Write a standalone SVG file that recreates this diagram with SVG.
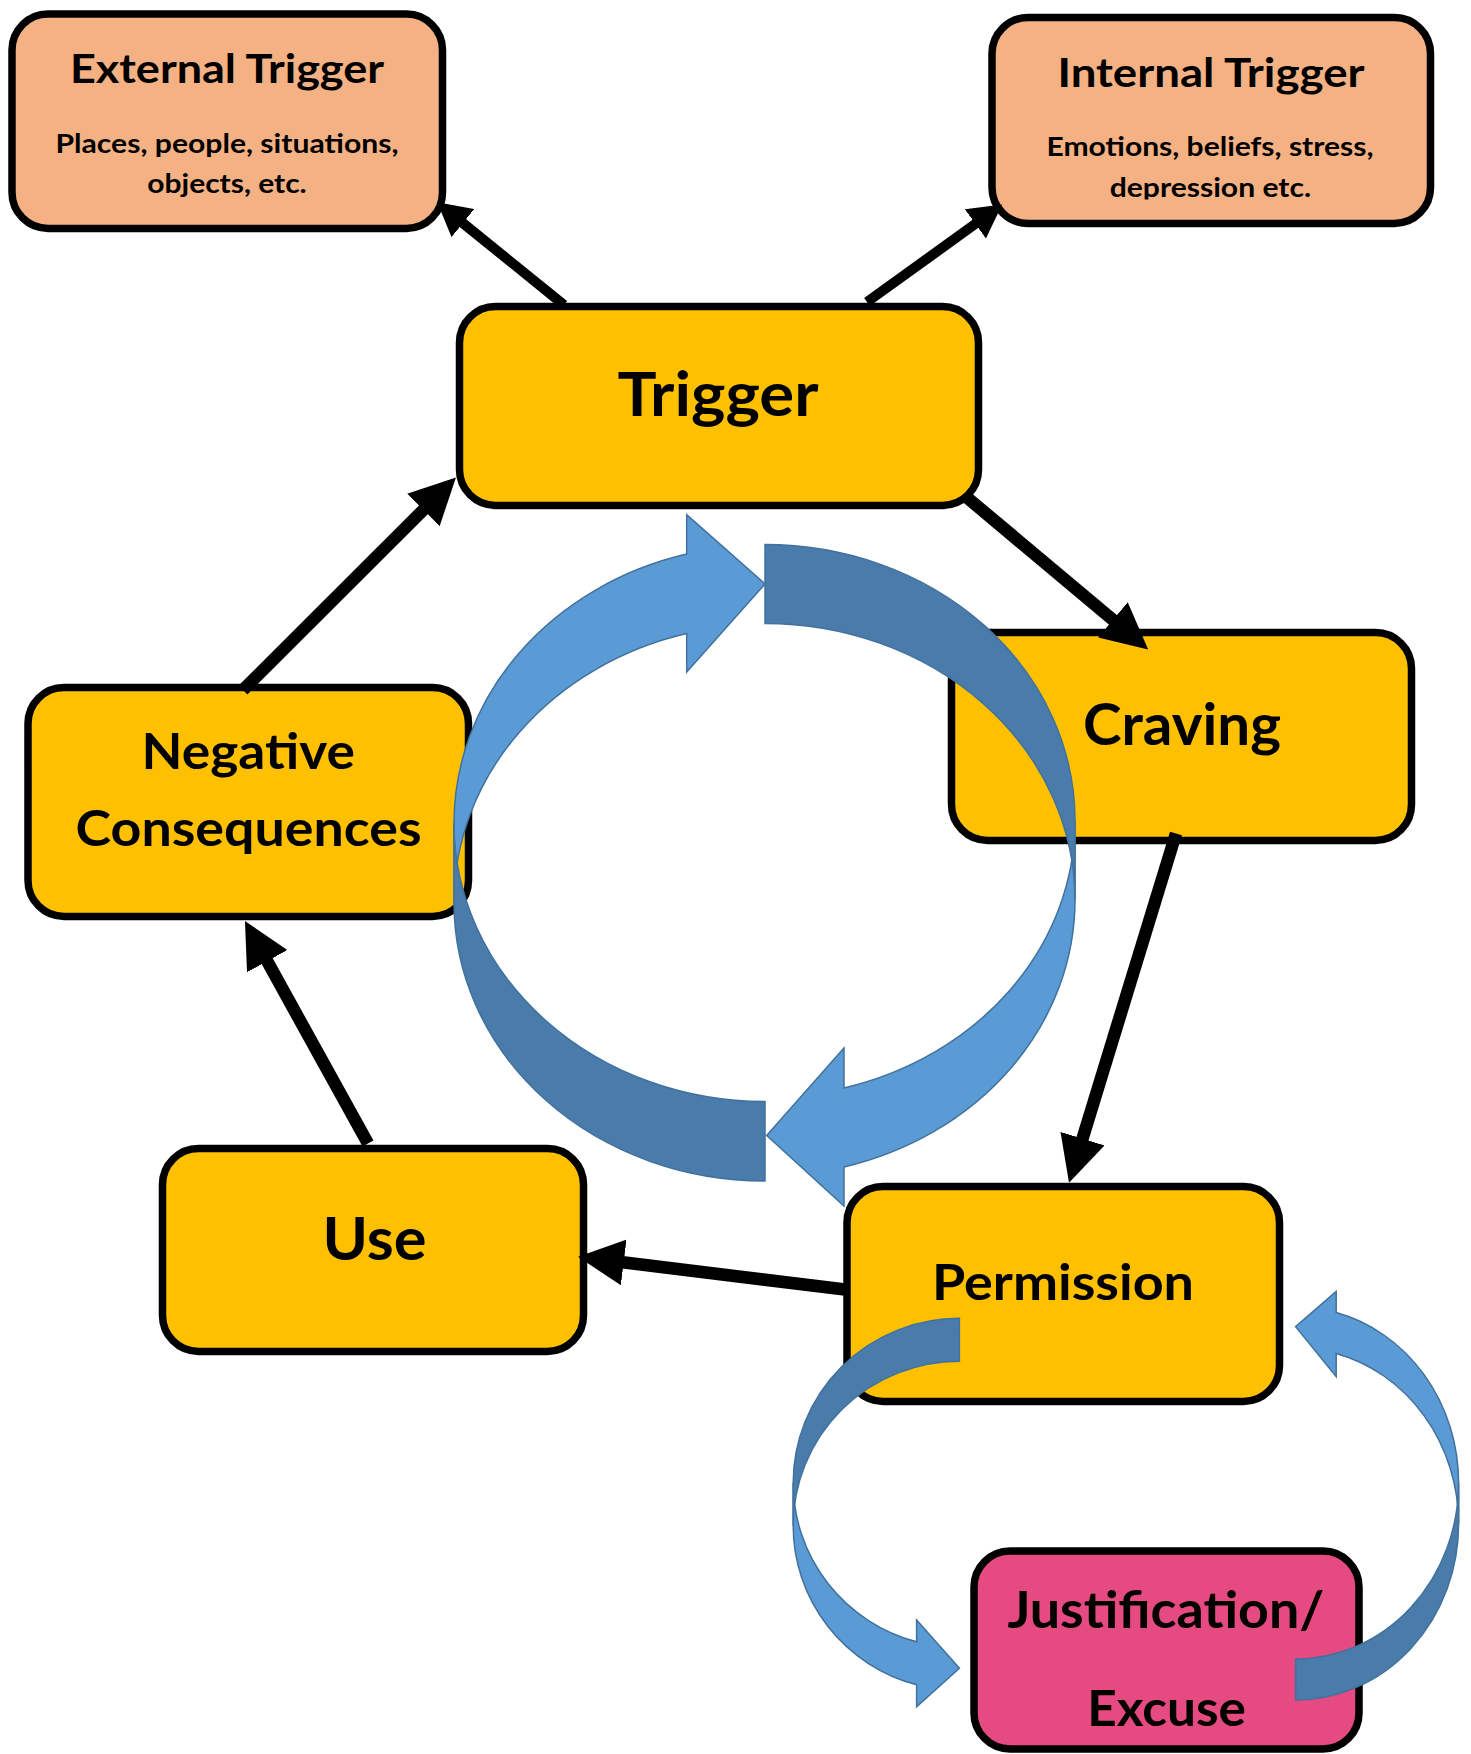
<svg xmlns="http://www.w3.org/2000/svg" width="1471" height="1754" viewBox="0 0 1471 1754">
<style>
.box{stroke:#000;stroke-width:7.5}
.core{fill:#FFC000}
.ext{fill:#F4B183}
.just{fill:#E54A81}
.t{font-family:Lato,"Liberation Sans",sans-serif;font-weight:bold;fill:#000;text-anchor:middle}
.con{stroke:#000;fill:none;stroke-linecap:butt}
.lt{fill:#5B9BD5;stroke:#41719C;stroke-width:1.5;stroke-linejoin:miter}
.dk{fill:#497CAA;stroke:#41719C;stroke-width:1.5;stroke-linejoin:miter}
</style>
<defs>
<marker id="ahBig" markerUnits="userSpaceOnUse" viewBox="0 0 46 46" refX="1" refY="23" markerWidth="46" markerHeight="46" orient="auto">
<path d="M0,0 L46,23 L0,46 Z" fill="#000"/>
</marker>
<marker id="ahSmall" markerUnits="userSpaceOnUse" viewBox="0 0 33 36" refX="1" refY="18" markerWidth="33" markerHeight="36" orient="auto">
<path d="M0,0 L33,18 L0,36 Z" fill="#000"/>
</marker>
<clipPath id="itClip"><rect x="995" y="100" width="430" height="99.5"/></clipPath>
</defs>

<g id="external-trigger">
<rect class="box ext" x="12" y="14" width="430.5" height="214.5" rx="36"/>
<text class="t" x="227" y="83.3" font-size="39.5" textLength="314" lengthAdjust="spacingAndGlyphs">External Trigger</text>
<text class="t" x="227" y="152.7" font-size="27" textLength="343" lengthAdjust="spacingAndGlyphs">Places, people, situations,</text>
<text class="t" x="227" y="193.3" font-size="27" textLength="159.5" lengthAdjust="spacingAndGlyphs">objects, etc.</text>
</g>

<g id="internal-trigger">
<rect class="box ext" x="992" y="17.5" width="438.5" height="206" rx="36"/>
<text class="t" x="1211" y="87.3" font-size="40.5" textLength="307" lengthAdjust="spacingAndGlyphs">Internal Trigger</text>
<text class="t" x="1210" y="156" font-size="27" textLength="327" lengthAdjust="spacingAndGlyphs">Emotions, beliefs, stress,</text>
<text class="t" x="1210.4" y="196.7" font-size="27" textLength="201.4" lengthAdjust="spacingAndGlyphs" clip-path="url(#itClip)">depression etc.</text>
</g>

<g id="trigger">
<rect class="box core" x="459.5" y="306.5" width="519" height="199" rx="36"/>
<text class="t" x="718" y="416" font-size="62" textLength="201" lengthAdjust="spacingAndGlyphs">Trigger</text>
</g>

<g id="craving">
<rect class="box core" x="951.5" y="632.5" width="460" height="208" rx="36"/>
<text class="t" x="1182" y="744.7" font-size="56.7" textLength="198" lengthAdjust="spacingAndGlyphs">Craving</text>
</g>

<g id="negative-consequences">
<rect class="box core" x="28" y="687.5" width="440.5" height="229" rx="36"/>
<text class="t" x="248.2" y="769.3" font-size="50" textLength="213.3" lengthAdjust="spacingAndGlyphs">Negative</text>
<text class="t" x="248.6" y="846.4" font-size="50" textLength="346" lengthAdjust="spacingAndGlyphs">Consequences</text>
</g>

<g id="use">
<rect class="box core" x="162.5" y="1148.5" width="421" height="203" rx="36"/>
<text class="t" x="374.5" y="1260" font-size="59.6" textLength="104" lengthAdjust="spacingAndGlyphs">Use</text>
</g>

<g id="permission">
<rect class="box core" x="847" y="1186.5" width="432.5" height="215" rx="36"/>
<text class="t" x="1063" y="1299.5" font-size="50" textLength="262" lengthAdjust="spacingAndGlyphs">Permission</text>
</g>

<g id="justification-excuse">
<rect class="box just" x="974" y="1551" width="385" height="198" rx="36"/>
<text class="t" x="1165.9" y="1628.3" font-size="51" textLength="317" lengthAdjust="spacingAndGlyphs">Justification/</text>
<text class="t" x="1166.5" y="1726" font-size="49" textLength="158.7" lengthAdjust="spacingAndGlyphs">Excuse</text>
</g>

<g id="connectors">
<path class="con" stroke-width="10" d="M564,305 L462.1,222.5" marker-end="url(#ahSmall)"/>
<path class="con" stroke-width="10" d="M867,302 L976.2,223.3" marker-end="url(#ahSmall)"/>
<path class="con" stroke-width="12.5" d="M964,495 L1113.7,620.5" marker-end="url(#ahBig)"/>
<path class="con" stroke-width="12.5" d="M1176,833.5 L1082.2,1139.6" marker-end="url(#ahBig)"/>
<path class="con" stroke-width="12.5" d="M845,1289.5 L622.7,1262.3" marker-end="url(#ahBig)"/>
<path class="con" stroke-width="12.5" d="M368,1143.6 L266.7,960.3" marker-end="url(#ahBig)"/>
<path class="con" stroke-width="12.5" d="M243,690 L424.1,509.2" marker-end="url(#ahBig)"/>
</g>

<g id="cycle-arrows">
<g id="cycle-left">
<path class="lt" d="M454,902.8 A311,278.2 0 0 1 686.7,633.6 L686.7,672 L765,584 L686.7,514.7 L686.7,554.1 A311,278.2 0 0 0 454,823.3 Z"/>
<path class="dk" d="M454,902.8 A311,278.2 0 0 0 765,1181 L765,1101.5 A311,278.2 0 0 1 454,823.3 Z"/>
</g>
<g id="cycle-right">
<path class="lt" d="M1075,820.8 A310,276.3 0 0 1 844,1088 L844,1048 L766.7,1135.5 L844,1206 L844,1167 A310,276.3 0 0 0 1075,899.8 Z"/>
<path class="dk" d="M765,544.5 A310,276.3 0 0 1 1075,820.8 L1075,899.8 A310,276.3 0 0 0 765,623.5 Z"/>
</g>
<g id="loop-left">
<path class="lt" d="M793.2,1482.8 A166.2,164.5 0 0 0 916.6,1641.8 L916.6,1620 L959.4,1668.3 L916.6,1706.7 L916.6,1684.8 A166.2,164.5 0 0 1 793.2,1525.8 Z"/>
<path class="dk" d="M959.4,1318.3 A166.2,164.5 0 0 0 793.2,1482.8 L793.2,1525.8 A166.2,164.5 0 0 1 959.4,1361.3 Z"/>
</g>
<g id="loop-right">
<path class="lt" d="M1458.6,1524 A163,176 0 0 0 1336.2,1353.5 L1336.2,1376.7 L1295.6,1326.7 L1336.2,1291.4 L1336.2,1312.5 A163,176 0 0 1 1458.6,1483 Z"/>
<path class="dk" d="M1295.6,1700 A163,176 0 0 0 1458.6,1524 L1458.6,1483 A163,176 0 0 1 1295.6,1659 Z"/>
</g>
</g>
</svg>
